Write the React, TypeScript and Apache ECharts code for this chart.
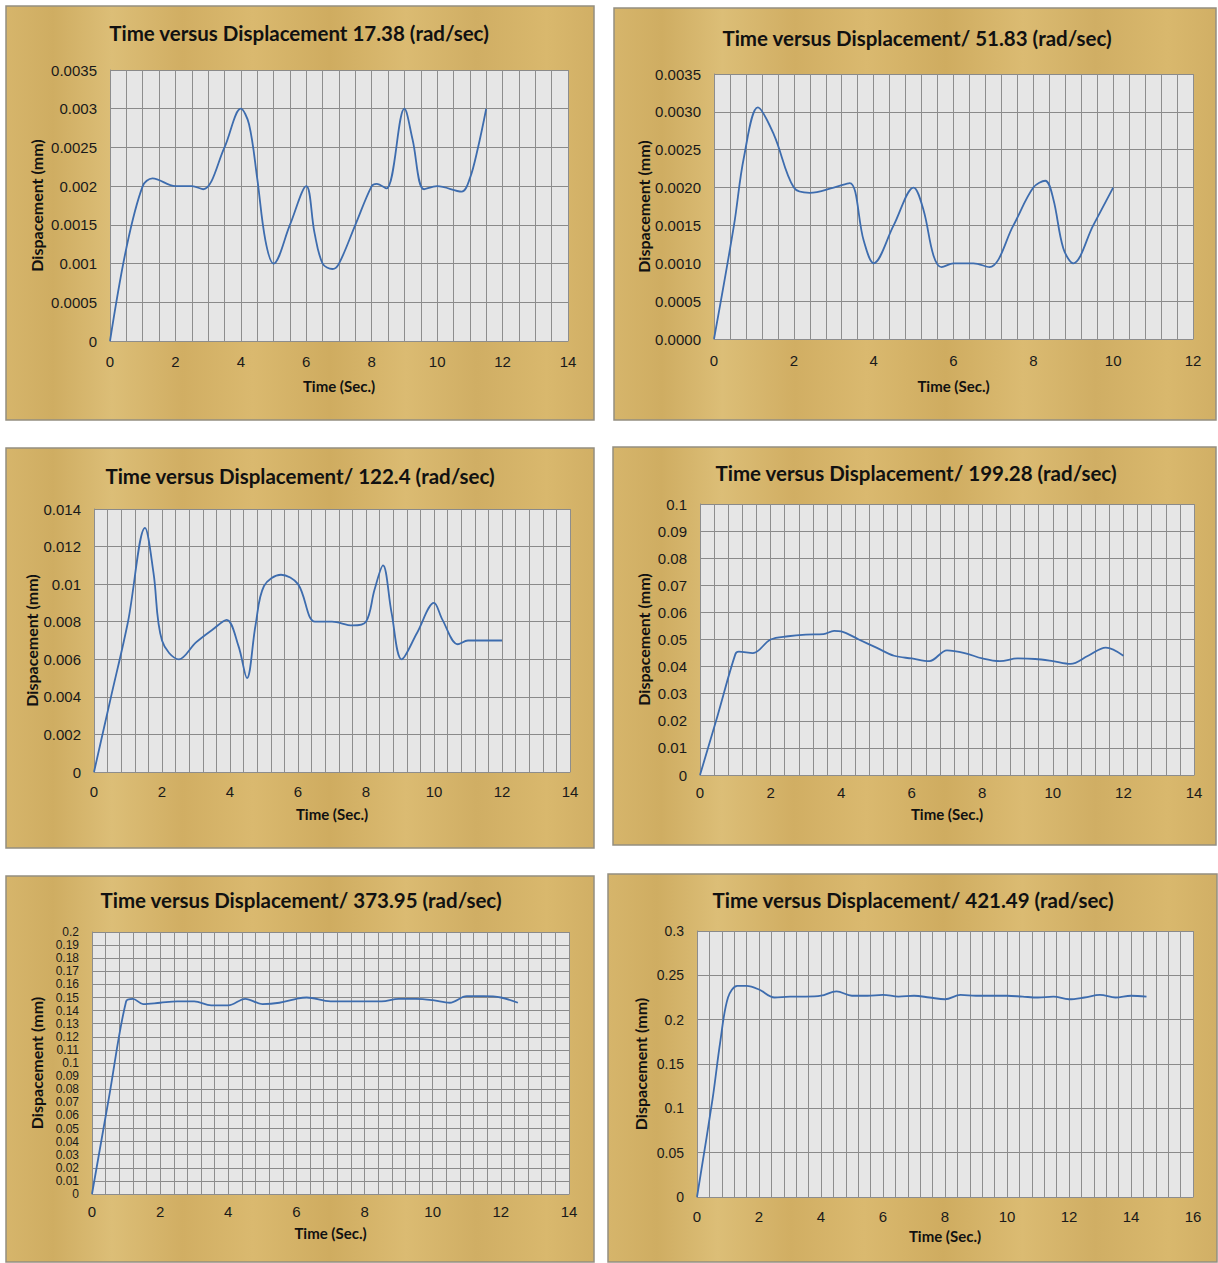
import React, { useEffect, useRef } from "react";
import * as echarts from "echarts";

// ---------- data ----------
const titles = [
  "Time versus Displacement 17.38 (rad/sec)",
  "Time versus Displacement/ 51.83 (rad/sec)",
  "Time versus Displacement/ 122.4 (rad/sec)",
  "Time versus Displacement/ 199.28 (rad/sec)",
  "Time versus Displacement/ 373.95 (rad/sec)",
  "Time versus Displacement/ 421.49 (rad/sec)",
];
const xAxisName = "Time (Sec.)";
const yAxisName = "Dispacement (mm)";

const t1 = [0, 0.5, 1, 1.3, 2, 2.5, 2.85, 3.5, 4, 4.25, 4.5, 4.75, 5, 5.5, 6, 6.25, 6.5, 6.8, 7, 7.5, 8, 8.15, 8.45, 9, 9.25, 9.6, 10, 10.75, 11, 11.25, 11.5];
const d1 = [0, 0.0012, 0.002, 0.0021, 0.002, 0.002, 0.00196, 0.0025, 0.003, 0.0028, 0.0021, 0.0013, 0.001, 0.0015, 0.002, 0.0014, 0.001, 0.00093, 0.001, 0.0015, 0.002, 0.00203, 0.00197, 0.003, 0.0026, 0.00196, 0.002, 0.00193, 0.0021, 0.0025, 0.003];

const t2 = [0, 0.5, 0.75, 1.1, 1.5, 2, 2.4, 3, 3.4, 3.75, 4, 4.5, 5, 5.25, 5.5, 5.7, 6, 6.5, 6.9, 7.5, 8, 8.3, 8.5, 8.75, 9, 9.5, 10];
const d2 = [0, 0.0015, 0.0024, 0.00306, 0.0027, 0.002, 0.00193, 0.002, 0.00206, 0.0013, 0.001, 0.0015, 0.002, 0.0017, 0.0011, 0.00095, 0.001, 0.001, 0.00095, 0.0015, 0.002, 0.00209, 0.00185, 0.0012, 0.001, 0.0015, 0.002];

const t3 = [0, 0.5, 1, 1.5, 1.75, 2, 2.5, 3, 3.5, 3.9, 4.25, 4.5, 4.75, 5, 5.5, 6, 6.5, 7, 7.6, 8, 8.25, 8.5, 8.75, 9.05, 9.5, 10, 10.25, 10.7, 11, 12];
const d3 = [0, 0.004, 0.008, 0.013, 0.0106, 0.007, 0.006, 0.0069, 0.0076, 0.0081, 0.0067, 0.005, 0.0078, 0.0099, 0.0105, 0.01, 0.008, 0.008, 0.0078, 0.008, 0.0097, 0.011, 0.0085, 0.006, 0.0074, 0.009, 0.0081, 0.0068, 0.007, 0.007];

const t4 = [0, 0.5, 1, 1.1, 1.5, 2, 2.5, 3, 3.5, 3.8, 4, 4.5, 5, 5.5, 6, 6.5, 7, 7.5, 8, 8.5, 9, 9.5, 10, 10.5, 11, 11.5, 12];
const d4 = [0, 0.022, 0.0445, 0.0455, 0.045, 0.05, 0.0512, 0.0518, 0.052, 0.0532, 0.053, 0.05, 0.047, 0.044, 0.043, 0.042, 0.046, 0.045, 0.043, 0.042, 0.043, 0.0428, 0.042, 0.041, 0.044, 0.047, 0.044];

const t5 = [0, 0.5, 1, 1.2, 1.5, 2, 2.5, 3, 3.5, 4, 4.5, 5, 5.5, 6, 6.3, 7, 7.5, 8, 8.5, 9, 9.5, 10, 10.5, 11, 11.5, 12, 12.5];
const d5 = [0, 0.074, 0.147, 0.149, 0.145, 0.146, 0.147, 0.147, 0.144, 0.144, 0.149, 0.145, 0.146, 0.149, 0.15, 0.147, 0.147, 0.147, 0.147, 0.149, 0.149, 0.148, 0.146, 0.151, 0.151, 0.15, 0.146];

const t6 = [0, 0.5, 0.75, 1, 1.3, 1.6, 2, 2.5, 3, 3.5, 4, 4.5, 5, 5.5, 6, 6.5, 7, 7.5, 8, 8.5, 9, 9.5, 10, 10.5, 11, 11.5, 12, 12.5, 13, 13.5, 14, 14.5];
const d6 = [0, 0.11, 0.175, 0.225, 0.238, 0.238, 0.234, 0.225, 0.226, 0.226, 0.227, 0.232, 0.227, 0.227, 0.228, 0.226, 0.227, 0.225, 0.223, 0.228, 0.227, 0.227, 0.227, 0.226, 0.225, 0.226, 0.223, 0.225, 0.228, 0.225, 0.227, 0.226];

const times = [t1, t2, t3, t4, t5, t6];
const values = [d1, d2, d3, d4, d5, d6];

const xMax = [14, 12, 14, 14, 14, 16];
const xMinorSplit = [4, 5, 5, 5, 5, 5];
const yMax = [0.0035, 0.0035, 0.014, 0.1, 0.2, 0.3];
const yInterval = [0.0005, 0.0005, 0.002, 0.01, 0.01, 0.05];
const yDecimals = [-1, 4, -1, -1, -1, -1];

// ---------- layout ----------
const panels = [
  { x: 6, y: 6, w: 588, h: 414 },
  { x: 614, y: 8, w: 602, h: 412 },
  { x: 6, y: 448, w: 588, h: 400 },
  { x: 613, y: 447, w: 603, h: 398 },
  { x: 6, y: 876, w: 588, h: 386 },
  { x: 608, y: 874, w: 609, h: 388 },
];
const plots = [
  { left: 110, top: 70, width: 458, height: 271 },
  { left: 714, top: 74, width: 479, height: 265 },
  { left: 94, top: 509, width: 476, height: 263 },
  { left: 700, top: 504, width: 494, height: 271 },
  { left: 92, top: 932, width: 477, height: 262 },
  { left: 697, top: 931, width: 496, height: 266 },
];
const titlePos = [
  { x: 299, y: 33 },
  { x: 917, y: 38 },
  { x: 300, y: 476 },
  { x: 916, y: 473 },
  { x: 301, y: 900 },
  { x: 913, y: 900 },
];
const yNameGap = [66, 63, 52, 49, 48, 49];
const xNameGap = [37, 39, 34, 31, 31, 31];
const yLabelSize = [15, 15, 15, 15, 12, 14];
const xLabelMargin = [13, 14, 12, 10, 10, 12];

const papyrus = () =>
  new echarts.graphic.LinearGradient(0, 0, 1, 0, [
    { offset: 0, color: "#d6b56b" },
    { offset: 0.08, color: "#cfad62" },
    { offset: 0.18, color: "#dcbe77" },
    { offset: 0.3, color: "#d1ae63" },
    { offset: 0.42, color: "#dab96f" },
    { offset: 0.55, color: "#cfac60" },
    { offset: 0.68, color: "#dbbb72" },
    { offset: 0.8, color: "#d0ae64" },
    { offset: 0.92, color: "#d9b86d" },
    { offset: 1, color: "#d1af65" },
  ]);

export default function App() {
  const ref = useRef<HTMLDivElement>(null);

  useEffect(() => {
    if (!ref.current) return;
    const chart = echarts.init(ref.current, undefined, { renderer: "svg" });

    const graphic: any[] = [];
    panels.forEach((p) => {
      graphic.push({
        type: "rect",
        shape: { x: p.x, y: p.y, width: p.w, height: p.h },
        style: { fill: papyrus(), stroke: "#948e80", lineWidth: 1.5 },
        z: -10,
        silent: true,
      });
    });
    titles.forEach((t, i) => {
      graphic.push({
        type: "text",
        x: titlePos[i].x,
        y: titlePos[i].y,
        style: {
          text: t,
          fill: "#111",
          font: "bold 20.5px Lato",
          textAlign: "center",
          textVerticalAlign: "middle",
        },
        z: 10,
      });
    });

    const grid = plots.map((p) => ({
      left: p.left,
      top: p.top,
      width: p.width,
      height: p.height,
      show: true,
      backgroundColor: "#e6e6e6",
      borderWidth: 0,
      containLabel: false,
    }));

    const gridLine = { color: "#8d8d8d", width: 1 };

    const xAxis = plots.map((_, i) => ({
      type: "value",
      gridIndex: i,
      min: 0,
      max: xMax[i],
      interval: 2,
      name: xAxisName,
      nameLocation: "middle",
      nameGap: xNameGap[i],
      nameTextStyle: { fontFamily: "Lato", fontWeight: "bold", fontSize: 15, color: "#111" },
      axisLine: { show: true, lineStyle: { color: "#8d8d8d" } },
      axisTick: { show: false },
      minorTick: { show: false, splitNumber: xMinorSplit[i] },
      axisLabel: {
        fontFamily: "Liberation Sans",
        fontSize: 15,
        color: "#1a1a1a",
        margin: xLabelMargin[i],
        showMinLabel: true,
        showMaxLabel: true,
      },
      splitLine: { show: true, lineStyle: gridLine },
      minorSplitLine: { show: true, lineStyle: gridLine },
    }));

    const yAxis = plots.map((_, i) => ({
      type: "value",
      gridIndex: i,
      min: 0,
      max: yMax[i],
      interval: yInterval[i],
      name: yAxisName,
      nameLocation: "middle",
      nameGap: yNameGap[i],
      nameTextStyle: { fontFamily: "Lato", fontWeight: "bold", fontSize: 16, color: "#111" },
      axisLine: { show: true, lineStyle: { color: "#8d8d8d" } },
      axisTick: { show: false },
      axisLabel: {
        fontFamily: "Liberation Sans",
        fontSize: yLabelSize[i],
        lineHeight: yLabelSize[i] === 12 ? 12 : undefined,
        color: "#1a1a1a",
        margin: 13,
        showMinLabel: true,
        showMaxLabel: true,
        hideOverlap: false,
        formatter: (v: number) =>
          yDecimals[i] >= 0 ? v.toFixed(yDecimals[i]) : String(parseFloat(v.toPrecision(6))),
      },
      splitLine: { show: true, lineStyle: { color: "#8a8a8a", width: 1.2 } },
    }));

    const series = times.map((t, i) => ({
      type: "line",
      xAxisIndex: i,
      yAxisIndex: i,
      data: t.map((x, k) => [x, values[i][k]]),
      smooth: 0.35,
      showSymbol: false,
      symbol: "none",
      lineStyle: { color: "#3d6cae", width: 1.8 },
      z: 5,
    }));

    chart.setOption({
      animation: false,
      backgroundColor: "#ffffff",
      graphic,
      grid,
      xAxis,
      yAxis,
      series,
    });

    return () => chart.dispose();
  }, []);

  return (
    <div
      ref={ref}
      style={{ position: "absolute", left: 0, top: 0, width: 1218, height: 1263 }}
    />
  );
}
